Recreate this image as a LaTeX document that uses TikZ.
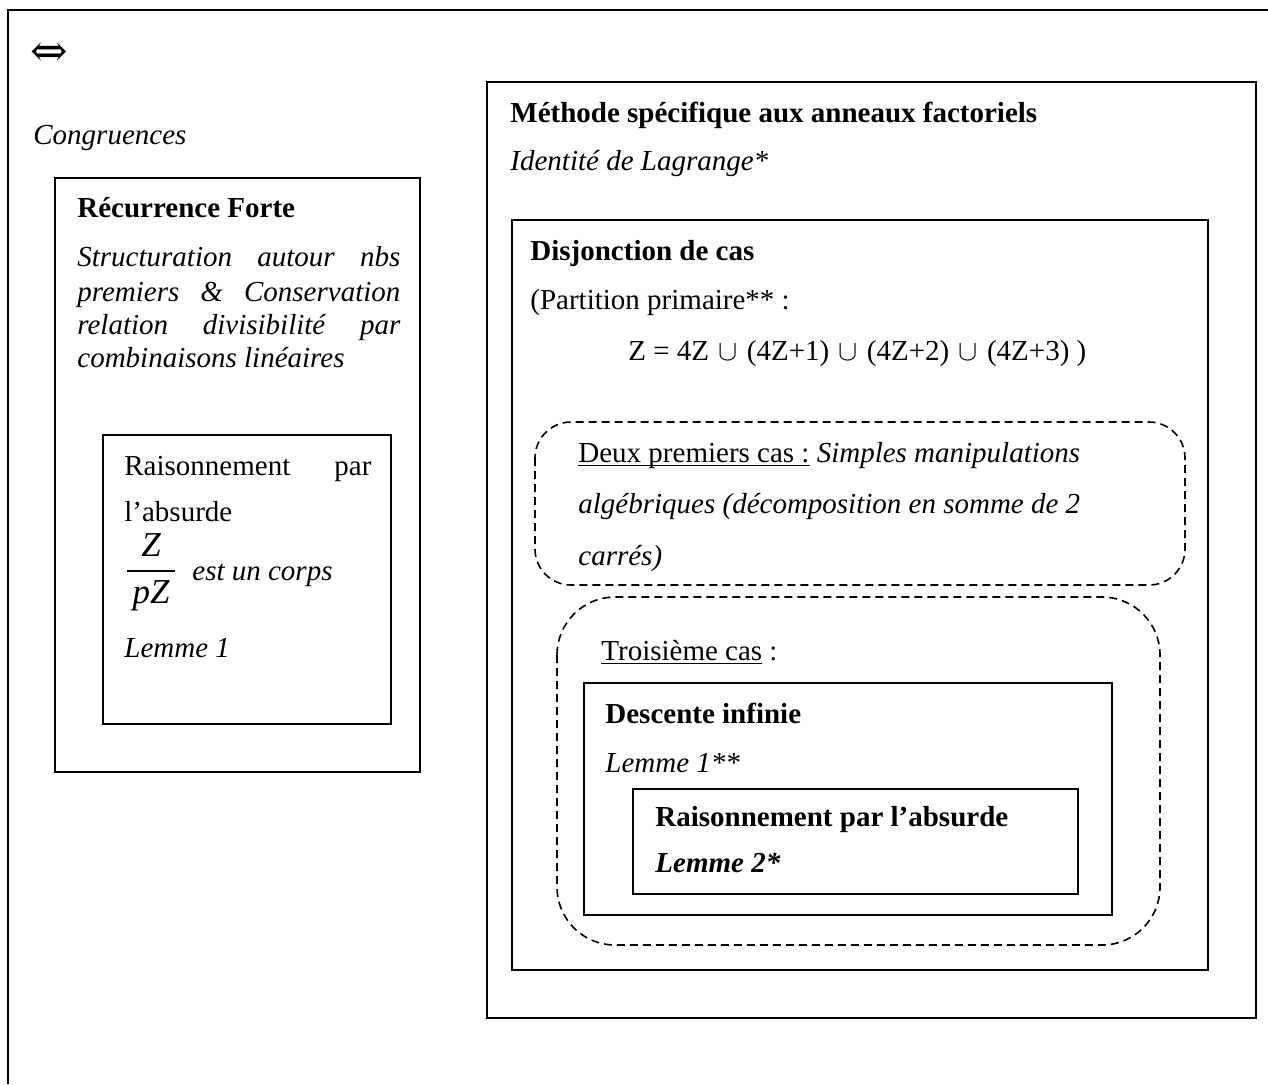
\documentclass[tikz,border=0pt]{standalone}
\usepackage{fontspec}
\setmainfont{Liberation Serif}
\newfontfamily\arrowfont{DejaVu Serif}
\usepackage{amsmath}
\newcommand{\fs}{\fontsize{14.5pt}{17pt}\selectfont}
\newcommand{\myul}[1]{\setbox0\hbox{#1}\rlap{\rule[-2.2pt]{\wd0}{0.6pt}}\box0\relax}
\begin{document}
\begin{tikzpicture}[x=0.5pt,y=-0.5pt,
  txt/.style={anchor=base west,inner sep=0pt,font=\fs},
  solidbox/.style={draw=black,line width=0.95pt},
  dashbox/.style={draw=black,line width=0.8pt,dash pattern=on 4pt off 2.5pt},
  frame/.style={draw=black,line width=0.8pt}]
\useasboundingbox (0,0) rectangle (1268,1084);
% outer frame (cut by the page)
\draw[frame] (1268,10) -- (8,10) -- (8,1084);
% left column
\node[anchor=west,inner sep=0pt,font=\arrowfont\fontsize{22.5pt}{26pt}\selectfont] (iff) at (30,55) {⇔};
\node[txt] (cong) at (33,144) {\textit{Congruences}};
\draw[solidbox] (55,178) rectangle (420,772);
\node[txt] (rec) at (77,217) {\textbf{Récurrence Forte}};
\node[txt] (s1) at (77,266) {\makebox[161.5pt][s]{\textit{Structuration autour nbs}}};
\node[txt] (s2) at (77,301) {\makebox[161.5pt][s]{\textit{premiers \& Conservation}}};
\node[txt] (s3) at (77,334) {\makebox[161.5pt][s]{\textit{relation divisibilité par}}};
\node[txt] (s4) at (77,367) {\textit{combinaisons linéaires}};
\draw[solidbox] (103,435) rectangle (391,724);
\node[txt] (ra1) at (124,475) {\makebox[123.5pt][s]{Raisonnement par}};
\node[txt] (ra2) at (124,521) {l’absurde};
\node[anchor=west,inner sep=0pt,font=\fontsize{17.5pt}{21pt}\selectfont] (frac) at (124,572) {$\dfrac{\textit{Z}}{\,\textit{pZ}\,}$};
\node[txt] (corps) at (192,580) {\textit{est un corps}};
\node[txt] (lem1) at (124,657) {\textit{Lemme 1}};
% right column
\draw[solidbox] (487,82) rectangle (1256,1018);
\node[txt] (meth) at (510,122) {\textbf{Méthode spécifique aux anneaux factoriels}};
\node[txt] (lag) at (510,170) {\textit{Identité de Lagrange*}};
\draw[solidbox] (512,220) rectangle (1208,970);
\node[txt] (disj) at (530,260) {\textbf{Disjonction de cas}};
\node[txt] (part) at (530,309) {(Partition primaire** :};
\node[txt] (form) at (628,360) {Z = 4Z\kern1pt{} $\cup$\kern1pt{} (4Z+1)\kern1pt{} $\cup$\kern1pt{} (4Z+2)\kern1pt{} $\cup$\kern1pt{} (4Z+3) )};
\draw[dashbox,rounded corners=18pt] (535,422) rectangle (1185,585);
\node[txt] (d1) at (578,462) {\myul{Deux premiers cas :} \textit{Simples manipulations}};
\node[txt] (d2) at (578,513) {\textit{algébriques (décomposition en somme de 2}};
\node[txt] (d3) at (578,565) {\textit{carrés)}};
\draw[dashbox,rounded corners=29pt] (557,597) rectangle (1160,945);
\node[txt] (trois) at (601,660) {\myul{Troisième cas} :};
\draw[solidbox] (584,683) rectangle (1112,915);
\node[txt] (desc) at (605,723) {\textbf{Descente infinie}};
\node[txt] (lem1b) at (605,772) {\textit{Lemme 1**}};
\draw[solidbox] (633,789) rectangle (1078,894);
\node[txt] (rab) at (655,826) {\textbf{Raisonnement par l’absurde}};
\node[txt] (lem2) at (655,872) {\textbf{\textit{Lemme 2*}}};
\end{tikzpicture}
\end{document}
